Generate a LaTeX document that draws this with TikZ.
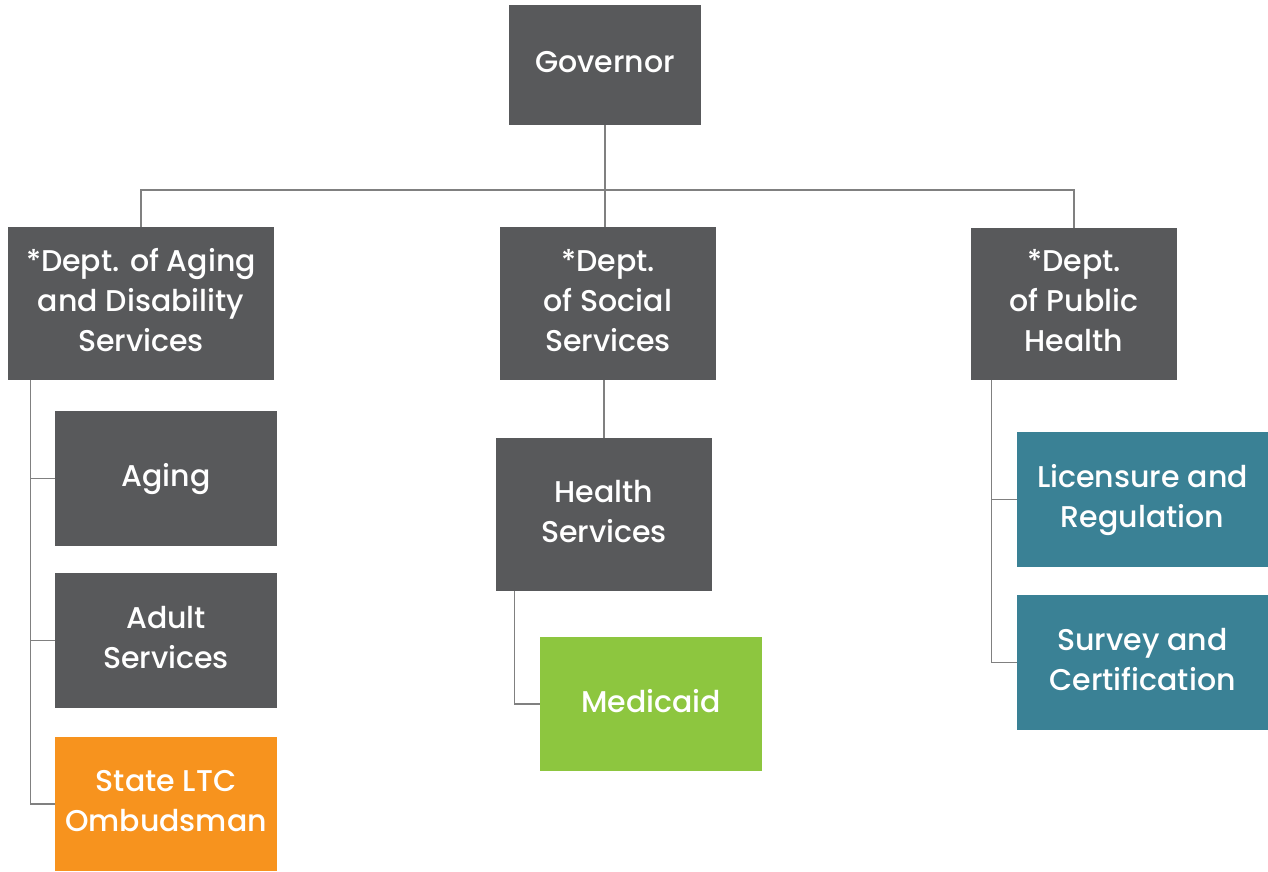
\documentclass[tikz,border=0pt]{standalone}
\usepackage{fontspec}
\setmainfont{Poppins}[UprightFont=* Medium]
\definecolor{boxgray}{HTML}{58595B}
\definecolor{ltcorange}{HTML}{F7931E}
\definecolor{medgreen}{HTML}{8DC63F}
\definecolor{phteal}{HTML}{3A8195}
\definecolor{linegray}{HTML}{808080}
\tikzset{
	unit/.style={fill=boxgray, text=white, align=center, inner sep=0pt, text depth=7pt,
		font=\fontsize{30}{40}\selectfont},
	link/.style={draw=linegray, line width=1.3pt},
}
\begin{document}
\begin{tikzpicture}[x=1pt, y=-1pt]
	\useasboundingbox (0,0) rectangle (1268,872);
	% top of the chart and the three departments
	\node[unit, minimum width=192pt, minimum height=120pt] (gov) at (605,65) {Governor};
	\node[unit, minimum width=266pt, minimum height=153pt] (ada) at (141,303.5) {*Dept. of Aging\\and Disability\\Services};
	\node[unit, minimum width=216pt, minimum height=153pt] (dss) at (608,303.5) {*Dept.\\of Social\\Services};
	\node[unit, minimum width=206pt, minimum height=152pt] (dph) at (1074,304) {*Dept.\\of Public\\Health};
	% units under each department
	\node[unit, minimum width=222pt, minimum height=135pt] (aging) at (166,478.5) {Aging};
	\node[unit, minimum width=222pt, minimum height=135pt] (adult) at (166,640.5) {Adult\\Services};
	\node[unit, fill=ltcorange, minimum width=222pt, minimum height=134pt] (omb) at (166,804) {State LTC\\Ombudsman};
	\node[unit, minimum width=216pt, minimum height=153pt] (hs) at (604,514.5) {Health\\Services};
	\node[unit, fill=medgreen, minimum width=222pt, minimum height=134pt] (med) at (651,704) {Medicaid};
	\node[unit, fill=phteal, minimum width=251pt, minimum height=135pt] (lic) at (1142.5,499.5) {Licensure and\\Regulation};
	\node[unit, fill=phteal, minimum width=251pt, minimum height=135pt] (svy) at (1142.5,662.5) {Survey and\\Certification};
	% connectors
	\coordinate (bus) at (605,190);
	\draw[link] (gov.south) -- (gov.south |- dss.north);
	\draw[link] (ada.north) |- (bus) -| (dph.north);
	\draw[link] (hs.north |- dss.south) -- (hs.north);
	\coordinate (adaroot) at ([xshift=23pt]ada.south west);
	\coordinate (hsroot) at ([xshift=19pt]hs.south west);
	\coordinate (dphroot) at ([xshift=21pt]dph.south west);
	\foreach \n in {aging,adult,omb}
		\draw[link] (adaroot) |- (\n.west);
	\draw[link] (hsroot) |- (med.west);
	\foreach \n in {lic,svy}
		\draw[link] (dphroot) |- (\n.west);
\end{tikzpicture}
\end{document}
